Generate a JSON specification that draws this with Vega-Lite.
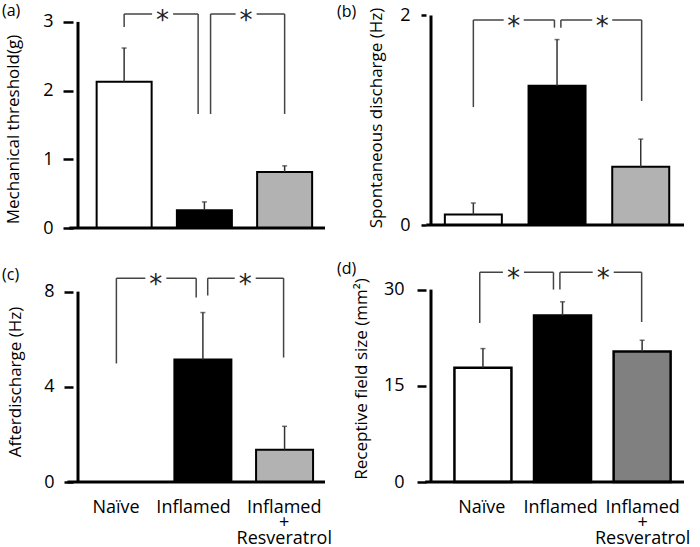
{
  "$schema": "https://vega.github.io/schema/vega-lite/v6.json",
  "background": "white",
  "padding": {"left": 2, "top": 2, "right": 2, "bottom": 2},
  "bounds": "flush",
  "columns": 2,
  "spacing": {"row": 43, "column": 96},
  "resolve": {"scale": {"x": "independent", "y": "independent", "fill": "independent"}},
  "config": {
    "font": "Open Sans",
    "view": {"stroke": null},
    "axis": {"domain": false, "grid": false, "labelFont": "Open Sans", "titleFont": "Open Sans", "labelFontSize": 18, "titleFontSize": 17, "titleFontWeight": "normal", "labelColor": "black", "titleColor": "black", "tickColor": "black", "tickSize": 9, "tickWidth": 2.5, "labelPadding": 10},
    "title": {"fontSize": 16, "fontWeight": "normal", "font": "Open Sans", "color": "black", "anchor": "start", "frame": "group", "offset": 0}
  },
  "datasets": {
    "bars": [
      {"panel": "a", "group": "Naïve", "pos": 1, "value": 2.13, "upper": 2.62},
      {"panel": "a", "group": "Inflamed", "pos": 2, "value": 0.26, "upper": 0.38},
      {"panel": "a", "group": "Resveratrol", "pos": 3, "value": 0.815, "upper": 0.905},
      {"panel": "b", "group": "Naïve", "pos": 1, "value": 0.1, "upper": 0.21},
      {"panel": "b", "group": "Inflamed", "pos": 2, "value": 1.33, "upper": 1.77},
      {"panel": "b", "group": "Resveratrol", "pos": 3, "value": 0.555, "upper": 0.82},
      {"panel": "c", "group": "Naïve", "pos": 1, "value": 0, "upper": 0},
      {"panel": "c", "group": "Inflamed", "pos": 2, "value": 5.15, "upper": 7.12},
      {"panel": "c", "group": "Resveratrol", "pos": 3, "value": 1.36, "upper": 2.34},
      {"panel": "d", "group": "Naïve", "pos": 1, "value": 17.8, "upper": 20.8},
      {"panel": "d", "group": "Inflamed", "pos": 2, "value": 25.96, "upper": 28.1},
      {"panel": "d", "group": "Resveratrol", "pos": 3, "value": 20.34, "upper": 22.1}
    ],
    "brackets": [
      {"panel": "a", "from": 1.0, "to": 1.922, "star": 1.479, "level": 3.115, "dropFrom": 2.926, "dropTo": 1.66},
      {"panel": "a", "from": 2.077, "to": 3.0, "star": 2.52, "level": 3.115, "dropFrom": 1.66, "dropTo": 1.66},
      {"panel": "b", "from": 1.0, "to": 1.969, "star": 1.482, "level": 1.957, "dropFrom": 1.126, "dropTo": 1.884},
      {"panel": "b", "from": 2.046, "to": 3.011, "star": 2.54, "level": 1.957, "dropFrom": 1.884, "dropTo": 1.184},
      {"panel": "c", "from": 0.941, "to": 1.918, "star": 1.424, "level": 8.563, "dropFrom": 4.98, "dropTo": 7.75},
      {"panel": "c", "from": 2.059, "to": 2.988, "star": 2.518, "level": 8.563, "dropFrom": 7.836, "dropTo": 5.23},
      {"panel": "d", "from": 0.96, "to": 1.886, "star": 1.383, "level": 32.7, "dropFrom": 24.79, "dropTo": 30.0},
      {"panel": "d", "from": 1.967, "to": 2.994, "star": 2.511, "level": 32.7, "dropFrom": 30.0, "dropTo": 24.95}
    ]
  },
  "concat": [
    {
      "width": 257, "height": 221,
      "title": {"text": "(a)", "dx": -71, "dy": 19},
      "layer": [
        {"data": {"name": "bars"}, "transform": [{"filter": "datum.panel == 'a'"}],
         "mark": {"type": "bar", "size": 55, "stroke": "black", "strokeWidth": 2},
         "encoding": {
           "x": {"field": "pos", "type": "quantitative", "scale": {"domain": [0.425, 3.503], "nice": false, "zero": false}, "axis": null},
           "y": {"field": "value", "type": "quantitative", "scale": {"domain": [0, 3.217], "nice": false}, "axis": {"title": "Mechanical threshold(g)", "values": [0, 1, 2, 3], "format": "d", "tickSize": 10, "labelPadding": 10, "titleX": -59.5, "titleY": 122, "titleBaseline": "middle"}},
           "fill": {"field": "group", "type": "nominal", "scale": {"domain": ["Naïve", "Inflamed", "Resveratrol"], "range": ["white", "black", "#b2b2b2"]}, "legend": null}}},
        {"data": {"name": "bars"}, "transform": [{"filter": "datum.panel == 'a'"}],
         "mark": {"type": "rule", "stroke": "#333", "strokeWidth": 1.5},
         "encoding": {"x": {"field": "pos", "type": "quantitative", "axis": null}, "y": {"field": "upper", "type": "quantitative"}, "y2": {"field": "value"}}},
        {"data": {"name": "bars"}, "transform": [{"filter": "datum.panel == 'a'"}],
         "mark": {"type": "tick", "orient": "horizontal", "size": 5, "thickness": 1.5, "color": "#333"},
         "encoding": {"x": {"field": "pos", "type": "quantitative", "axis": null}, "y": {"field": "upper", "type": "quantitative"}}},
        {"data": {"name": "brackets"}, "transform": [{"filter": "datum.panel == 'a'"}],
         "mark": {"type": "rule", "stroke": "#444", "strokeWidth": 1.5},
         "encoding": {"x": {"field": "from", "type": "quantitative", "axis": null}, "y": {"field": "level", "type": "quantitative"}, "y2": {"field": "dropFrom"}}},
        {"data": {"name": "brackets"}, "transform": [{"filter": "datum.panel == 'a'"}],
         "mark": {"type": "rule", "stroke": "#444", "strokeWidth": 1.5},
         "encoding": {"x": {"field": "to", "type": "quantitative", "axis": null}, "y": {"field": "level", "type": "quantitative"}, "y2": {"field": "dropTo"}}},
        {"data": {"name": "brackets"}, "transform": [{"filter": "datum.panel == 'a'"}],
         "mark": {"type": "rule", "stroke": "#444", "strokeWidth": 1.5},
         "encoding": {"x": {"field": "from", "type": "quantitative", "axis": null}, "x2": {"field": "to"}, "y": {"field": "level", "type": "quantitative"}}},
        {"data": {"name": "brackets"}, "transform": [{"filter": "datum.panel == 'a'"}],
         "mark": {"type": "point", "shape": "square", "filled": true, "color": "white", "size": 441, "opacity": 1},
         "encoding": {"x": {"field": "star", "type": "quantitative", "axis": null}, "y": {"field": "level", "type": "quantitative"}}},
        {"data": {"name": "brackets"}, "transform": [{"filter": "datum.panel == 'a'"}],
         "mark": {"type": "text", "text": "*", "font": "DejaVu Sans", "fontSize": 26, "baseline": "middle", "dy": 7, "color": "#222"},
         "encoding": {"x": {"field": "star", "type": "quantitative", "axis": null}, "y": {"field": "level", "type": "quantitative"}}},
        {"data": {"values": [{}]},
         "mark": {"type": "rule", "strokeWidth": 3, "color": "black"},
         "encoding": {"x": {"datum": 0.425, "type": "quantitative", "axis": null}, "y": {"datum": 0, "type": "quantitative"}, "y2": {"datum": 3}}},
        {"data": {"values": [{}]},
         "mark": {"type": "rule", "strokeWidth": 3, "color": "black"},
         "encoding": {"x": {"datum": 0.317, "type": "quantitative", "axis": null}, "x2": {"datum": 3.503}, "y": {"datum": 0, "type": "quantitative"}}}
      ]
    },
    {
      "width": 263, "height": 218,
      "title": {"text": "(b)", "dx": -89, "dy": 19},
      "layer": [
        {"data": {"name": "bars"}, "transform": [{"filter": "datum.panel == 'b'"}],
         "mark": {"type": "bar", "size": 57, "stroke": "black", "strokeWidth": 2},
         "encoding": {
           "x": {"field": "pos", "type": "quantitative", "scale": {"domain": [0.494, 3.517], "nice": false, "zero": false}, "axis": null},
           "y": {"field": "value", "type": "quantitative", "scale": {"domain": [0, 2.081], "nice": false}, "axis": {"title": "Spontaneous  discharge (Hz)", "values": [0, 1, 2], "format": "d", "tickSize": 5, "labelPadding": 11, "titleX": -50, "titleY": 110.5, "titleBaseline": "middle"}},
           "fill": {"field": "group", "type": "nominal", "scale": {"domain": ["Naïve", "Inflamed", "Resveratrol"], "range": ["white", "black", "#b2b2b2"]}, "legend": null}}},
        {"data": {"name": "bars"}, "transform": [{"filter": "datum.panel == 'b'"}],
         "mark": {"type": "rule", "stroke": "#333", "strokeWidth": 1.5},
         "encoding": {"x": {"field": "pos", "type": "quantitative", "axis": null}, "y": {"field": "upper", "type": "quantitative"}, "y2": {"field": "value"}}},
        {"data": {"name": "bars"}, "transform": [{"filter": "datum.panel == 'b'"}],
         "mark": {"type": "tick", "orient": "horizontal", "size": 5, "thickness": 1.5, "color": "#333"},
         "encoding": {"x": {"field": "pos", "type": "quantitative", "axis": null}, "y": {"field": "upper", "type": "quantitative"}}},
        {"data": {"name": "brackets"}, "transform": [{"filter": "datum.panel == 'b'"}],
         "mark": {"type": "rule", "stroke": "#444", "strokeWidth": 1.5},
         "encoding": {"x": {"field": "from", "type": "quantitative", "axis": null}, "y": {"field": "level", "type": "quantitative"}, "y2": {"field": "dropFrom"}}},
        {"data": {"name": "brackets"}, "transform": [{"filter": "datum.panel == 'b'"}],
         "mark": {"type": "rule", "stroke": "#444", "strokeWidth": 1.5},
         "encoding": {"x": {"field": "to", "type": "quantitative", "axis": null}, "y": {"field": "level", "type": "quantitative"}, "y2": {"field": "dropTo"}}},
        {"data": {"name": "brackets"}, "transform": [{"filter": "datum.panel == 'b'"}],
         "mark": {"type": "rule", "stroke": "#444", "strokeWidth": 1.5},
         "encoding": {"x": {"field": "from", "type": "quantitative", "axis": null}, "x2": {"field": "to"}, "y": {"field": "level", "type": "quantitative"}}},
        {"data": {"name": "brackets"}, "transform": [{"filter": "datum.panel == 'b'"}],
         "mark": {"type": "point", "shape": "square", "filled": true, "color": "white", "size": 400, "opacity": 1},
         "encoding": {"x": {"field": "star", "type": "quantitative", "axis": null}, "y": {"field": "level", "type": "quantitative"}}},
        {"data": {"name": "brackets"}, "transform": [{"filter": "datum.panel == 'b'"}],
         "mark": {"type": "text", "text": "*", "font": "DejaVu Sans", "fontSize": 26, "baseline": "middle", "dy": 7, "color": "#222"},
         "encoding": {"x": {"field": "star", "type": "quantitative", "axis": null}, "y": {"field": "level", "type": "quantitative"}}},
        {"data": {"values": [{}]},
         "mark": {"type": "rule", "strokeWidth": 3, "color": "black"},
         "encoding": {"x": {"datum": 0.494, "type": "quantitative", "axis": null}, "y": {"datum": 0, "type": "quantitative"}, "y2": {"datum": 2}}},
        {"data": {"values": [{}]},
         "mark": {"type": "rule", "strokeWidth": 3, "color": "black"},
         "encoding": {"x": {"datum": 0.437, "type": "quantitative", "axis": null}, "x2": {"datum": 3.517}, "y": {"datum": 0, "type": "quantitative"}}}
      ]
    },
    {
      "width": 257, "height": 211,
      "title": {"text": "(c)", "dx": -71, "dy": 19},
      "layer": [
        {"data": {"name": "bars"}, "transform": [{"filter": "datum.panel == 'c'"}],
         "mark": {"type": "bar", "size": 57, "stroke": "black", "strokeWidth": 2},
         "encoding": {
           "x": {"field": "pos", "type": "quantitative", "scale": {"domain": [0.471, 3.495], "nice": false, "zero": false},
                 "axis": {"values": [0.93, 1.88, 2.99], "labelExpr": "round(datum.value) == 1 ? 'Naïve' : round(datum.value) == 2 ? 'Inflamed' : ['Inflamed', '+', 'Resveratrol']", "ticks": false, "title": null, "labelPadding": 16, "labelLineHeight": 15.5, "labelOverlap": false, "labelBound": false, "labelFlush": false}},
           "y": {"field": "value", "type": "quantitative", "scale": {"domain": [0, 8.866], "nice": false}, "axis": {"title": "Afterdischarge (Hz)", "values": [0, 4, 8], "format": "d", "tickSize": 9, "labelPadding": 10, "titleX": -58, "titleY": 110.5, "titleBaseline": "middle"}},
           "fill": {"field": "group", "type": "nominal", "scale": {"domain": ["Naïve", "Inflamed", "Resveratrol"], "range": ["white", "black", "#b2b2b2"]}, "legend": null}}},
        {"data": {"name": "bars"}, "transform": [{"filter": "datum.panel == 'c' && datum.upper > 0"}],
         "mark": {"type": "rule", "stroke": "#333", "strokeWidth": 1.5},
         "encoding": {"x": {"field": "pos", "type": "quantitative"}, "y": {"field": "upper", "type": "quantitative"}, "y2": {"field": "value"}}},
        {"data": {"name": "bars"}, "transform": [{"filter": "datum.panel == 'c' && datum.upper > 0"}],
         "mark": {"type": "tick", "orient": "horizontal", "size": 5, "thickness": 1.5, "color": "#333"},
         "encoding": {"x": {"field": "pos", "type": "quantitative"}, "y": {"field": "upper", "type": "quantitative"}}},
        {"data": {"name": "brackets"}, "transform": [{"filter": "datum.panel == 'c'"}],
         "mark": {"type": "rule", "stroke": "#444", "strokeWidth": 1.5},
         "encoding": {"x": {"field": "from", "type": "quantitative"}, "y": {"field": "level", "type": "quantitative"}, "y2": {"field": "dropFrom"}}},
        {"data": {"name": "brackets"}, "transform": [{"filter": "datum.panel == 'c'"}],
         "mark": {"type": "rule", "stroke": "#444", "strokeWidth": 1.5},
         "encoding": {"x": {"field": "to", "type": "quantitative"}, "y": {"field": "level", "type": "quantitative"}, "y2": {"field": "dropTo"}}},
        {"data": {"name": "brackets"}, "transform": [{"filter": "datum.panel == 'c'"}],
         "mark": {"type": "rule", "stroke": "#444", "strokeWidth": 1.5},
         "encoding": {"x": {"field": "from", "type": "quantitative"}, "x2": {"field": "to"}, "y": {"field": "level", "type": "quantitative"}}},
        {"data": {"name": "brackets"}, "transform": [{"filter": "datum.panel == 'c'"}],
         "mark": {"type": "point", "shape": "square", "filled": true, "color": "white", "size": 441, "opacity": 1},
         "encoding": {"x": {"field": "star", "type": "quantitative"}, "y": {"field": "level", "type": "quantitative"}}},
        {"data": {"name": "brackets"}, "transform": [{"filter": "datum.panel == 'c'"}],
         "mark": {"type": "text", "text": "*", "font": "DejaVu Sans", "fontSize": 26, "baseline": "middle", "dy": 7, "color": "#222"},
         "encoding": {"x": {"field": "star", "type": "quantitative"}, "y": {"field": "level", "type": "quantitative"}}},
        {"data": {"values": [{}]},
         "mark": {"type": "rule", "strokeWidth": 3, "color": "black"},
         "encoding": {"x": {"datum": 0.471, "type": "quantitative"}, "y": {"datum": 0, "type": "quantitative"}, "y2": {"datum": 8}}},
        {"data": {"values": [{}]},
         "mark": {"type": "rule", "strokeWidth": 3, "color": "black"},
         "encoding": {"x": {"datum": 0.342, "type": "quantitative"}, "x2": {"datum": 3.495}, "y": {"datum": 0, "type": "quantitative"}}}
      ]
    },
    {
      "width": 263, "height": 211,
      "title": {"text": "(d)", "dx": -89, "dy": 19},
      "layer": [
        {"data": {"name": "bars"}, "transform": [{"filter": "datum.panel == 'd'"}],
         "mark": {"type": "bar", "size": 57, "stroke": "black", "strokeWidth": 2.5},
         "encoding": {
           "x": {"field": "pos", "type": "quantitative", "scale": {"domain": [0.3475, 3.526], "nice": false, "zero": false},
                 "axis": {"values": [0.98, 1.97, 3.0], "labelExpr": "round(datum.value) == 1 ? 'Naïve' : round(datum.value) == 2 ? 'Inflamed' : ['Inflamed', '+', 'Resveratrol']", "ticks": false, "title": null, "labelPadding": 16, "labelLineHeight": 15.5, "labelOverlap": false, "labelBound": false, "labelFlush": false}},
           "y": {"field": "value", "type": "quantitative", "scale": {"domain": [0, 32.9], "nice": false}, "axis": {"title": "Receptive field size (mm²)", "values": [0, 15, 30], "format": "d", "tickSize": 9, "labelPadding": 13, "titleX": -64.5, "titleY": 107.5, "titleBaseline": "middle"}},
           "fill": {"field": "group", "type": "nominal", "scale": {"domain": ["Naïve", "Inflamed", "Resveratrol"], "range": ["white", "black", "#808080"]}, "legend": null}}},
        {"data": {"name": "bars"}, "transform": [{"filter": "datum.panel == 'd'"}],
         "mark": {"type": "rule", "stroke": "#333", "strokeWidth": 1.5},
         "encoding": {"x": {"field": "pos", "type": "quantitative"}, "y": {"field": "upper", "type": "quantitative"}, "y2": {"field": "value"}}},
        {"data": {"name": "bars"}, "transform": [{"filter": "datum.panel == 'd'"}],
         "mark": {"type": "tick", "orient": "horizontal", "size": 5, "thickness": 1.5, "color": "#333"},
         "encoding": {"x": {"field": "pos", "type": "quantitative"}, "y": {"field": "upper", "type": "quantitative"}}},
        {"data": {"name": "brackets"}, "transform": [{"filter": "datum.panel == 'd'"}],
         "mark": {"type": "rule", "stroke": "#444", "strokeWidth": 1.5},
         "encoding": {"x": {"field": "from", "type": "quantitative"}, "y": {"field": "level", "type": "quantitative"}, "y2": {"field": "dropFrom"}}},
        {"data": {"name": "brackets"}, "transform": [{"filter": "datum.panel == 'd'"}],
         "mark": {"type": "rule", "stroke": "#444", "strokeWidth": 1.5},
         "encoding": {"x": {"field": "to", "type": "quantitative"}, "y": {"field": "level", "type": "quantitative"}, "y2": {"field": "dropTo"}}},
        {"data": {"name": "brackets"}, "transform": [{"filter": "datum.panel == 'd'"}],
         "mark": {"type": "rule", "stroke": "#444", "strokeWidth": 1.5},
         "encoding": {"x": {"field": "from", "type": "quantitative"}, "x2": {"field": "to"}, "y": {"field": "level", "type": "quantitative"}}},
        {"data": {"name": "brackets"}, "transform": [{"filter": "datum.panel == 'd'"}],
         "mark": {"type": "point", "shape": "square", "filled": true, "color": "white", "size": 441, "opacity": 1},
         "encoding": {"x": {"field": "star", "type": "quantitative"}, "y": {"field": "level", "type": "quantitative"}}},
        {"data": {"name": "brackets"}, "transform": [{"filter": "datum.panel == 'd'"}],
         "mark": {"type": "text", "text": "*", "font": "DejaVu Sans", "fontSize": 26, "baseline": "middle", "dy": 7, "color": "#222"},
         "encoding": {"x": {"field": "star", "type": "quantitative"}, "y": {"field": "level", "type": "quantitative"}}},
        {"data": {"values": [{}]},
         "mark": {"type": "rule", "strokeWidth": 3, "color": "black"},
         "encoding": {"x": {"datum": 0.3475, "type": "quantitative"}, "y": {"datum": 0, "type": "quantitative"}, "y2": {"datum": 30}}},
        {"data": {"values": [{}]},
         "mark": {"type": "rule", "strokeWidth": 3, "color": "black"},
         "encoding": {"x": {"datum": 0.275, "type": "quantitative"}, "x2": {"datum": 3.526}, "y": {"datum": 0, "type": "quantitative"}}}
      ]
    }
  ]
}
